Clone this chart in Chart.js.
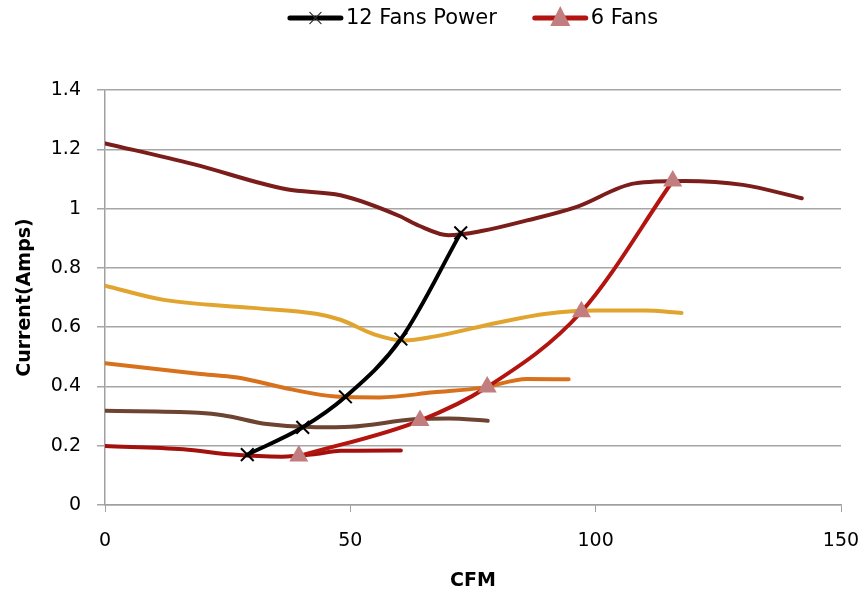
<!DOCTYPE html>
<html>
<head>
<meta charset="utf-8">
<script src="https://cdn.jsdelivr.net/npm/chart.js@4.4.1/dist/chart.umd.min.js"></script>
<style>
  html, body { margin: 0; padding: 0; background: #ffffff; }
  #wrap { width: 861px; height: 594px; position: relative; }
</style>
</head>
<body>
<div id="wrap"><canvas id="chart" width="861" height="594"></canvas></div>
<script>
// Axis ticks
const xTicks = [0, 50, 100, 150];
const yTicks = [0, 0.2, 0.4, 0.6, 0.8, 1.0, 1.2, 1.4];

// Labelled series
const power12Cfm  = [29, 40.3, 49, 60.3, 72.5];
const power12Amps = [0.17, 0.262, 0.365, 0.56, 0.918];
const fans6Cfm    = [39.5, 64.2, 77.9, 97.1, 115.7];
const fans6Amps   = [0.165, 0.285, 0.398, 0.652, 1.093];

// Fan curves (no legend entry)
const curve1Cfm  = [0, 18, 37, 48, 60, 64, 70, 77, 86, 96, 108, 118, 130, 142];
const curve1Amps = [1.22, 1.15, 1.065, 1.045, 0.975, 0.942, 0.91, 0.925, 0.96, 1.005, 1.085, 1.093, 1.08, 1.035];
const curve2Cfm  = [0, 12, 30, 43, 48, 55, 61, 67, 80, 90, 100, 110, 117.5];
const curve2Amps = [0.74, 0.692, 0.665, 0.645, 0.625, 0.575, 0.555, 0.568, 0.615, 0.645, 0.656, 0.656, 0.648];
const curve3Cfm  = [0, 19, 27, 38, 47, 56, 67, 77, 86, 94.5];
const curve3Amps = [0.478, 0.443, 0.43, 0.39, 0.366, 0.363, 0.38, 0.396, 0.425, 0.424];
const curve4Cfm  = [0, 19, 24, 33, 43, 50, 63, 70, 78];
const curve4Amps = [0.318, 0.311, 0.303, 0.273, 0.262, 0.264, 0.289, 0.292, 0.284];
const curve5Cfm  = [0, 16, 26, 36, 43, 48, 60.3];
const curve5Amps = [0.199, 0.188, 0.17, 0.163, 0.172, 0.183, 0.184];

const pts = (xs, ys) => xs.map((x, i) => ({ x: x, y: ys[i] }));

const FONT = "'DejaVu Sans', 'Liberation Sans', sans-serif";

function curve(xs, ys, color, order) {
  return {
    label: '',
    data: pts(xs, ys),
    borderColor: color,
    backgroundColor: color,
    borderWidth: 4,
    pointRadius: 0,
    pointHoverRadius: 0,
    cubicInterpolationMode: 'monotone',
    borderCapStyle: 'round',
    borderJoinStyle: 'round',
    fill: false,
    order: order,
    showInLegend: false
  };
}

const datasets = [
  curve(curve1Cfm, curve1Amps, '#7B1E1B', 5),
  curve(curve2Cfm, curve2Amps, '#E1A42F', 4),
  curve(curve3Cfm, curve3Amps, '#D8711C', 3),
  curve(curve4Cfm, curve4Amps, '#6C4431', 6),
  curve(curve5Cfm, curve5Amps, '#A3110F', 7),
  {
    label: '12 Fans Power',
    data: pts(power12Cfm, power12Amps),
    borderColor: '#000000',
    backgroundColor: '#000000',
    borderWidth: 4,
    pointStyle: 'crossRot',
    pointRadius: 9,
    pointBorderWidth: 2,
    pointBorderColor: '#000000',
    cubicInterpolationMode: 'monotone',
    borderCapStyle: 'round',
    fill: false,
    order: 1,
    showInLegend: true
  },
  {
    label: '6 Fans',
    data: pts(fans6Cfm, fans6Amps),
    borderColor: '#B3140F',
    backgroundColor: '#C27E7E',
    borderWidth: 4,
    pointStyle: 'triangle',
    pointRadius: 11,
    pointBorderWidth: 0,
    pointBorderColor: '#C27E7E',
    pointBackgroundColor: '#C27E7E',
    cubicInterpolationMode: 'monotone',
    borderCapStyle: 'round',
    fill: false,
    order: 0,
    showInLegend: true
  }
];

// Legend: a line sample with its marker, followed by the series name
const lineLegend = {
  id: 'lineLegend',
  afterDraw(chart) {
    const ctx = chart.ctx;
    const items = chart.data.datasets.filter(d => d.showInLegend);
    const sample = 55, gap = 3, spacing = 36, y = 18;
    ctx.save();
    ctx.font = '21px ' + FONT;
    const widths = items.map(d => sample + gap + ctx.measureText(d.label).width);
    const total = widths.reduce((a, b) => a + b, 0) + spacing * (items.length - 1);
    const area = chart.chartArea;
    let x = (area.left + area.right) / 2 - total / 2;
    items.forEach((d, k) => {
      ctx.strokeStyle = d.borderColor;
      ctx.lineWidth = 5;
      ctx.lineCap = 'round';
      ctx.beginPath();
      ctx.moveTo(x + 2, y);
      ctx.lineTo(x + sample - 2, y);
      ctx.stroke();
      const cx = x + sample / 2;
      if (d.pointStyle === 'crossRot') {
        const r = 8;
        ctx.strokeStyle = '#333333';
        ctx.lineWidth = 1.3;
        ctx.beginPath();
        ctx.moveTo(cx - r * 0.7, y - r * 0.7); ctx.lineTo(cx + r * 0.7, y + r * 0.7);
        ctx.moveTo(cx + r * 0.7, y - r * 0.7); ctx.lineTo(cx - r * 0.7, y + r * 0.7);
        ctx.stroke();
      } else if (d.pointStyle === 'triangle') {
        ctx.fillStyle = d.pointBackgroundColor;
        ctx.beginPath();
        ctx.moveTo(cx, y - 12);
        ctx.lineTo(cx + 10, y + 8);
        ctx.lineTo(cx - 10, y + 8);
        ctx.closePath();
        ctx.fill();
      }
      ctx.fillStyle = '#000000';
      ctx.textBaseline = 'middle';
      ctx.textAlign = 'left';
      ctx.fillText(d.label, x + sample + gap, y + 1);
      x += widths[k] + spacing;
    });
    ctx.restore();
  }
};

new Chart(document.getElementById('chart'), {
  type: 'line',
  data: { datasets: datasets },
  plugins: [lineLegend],
  options: {
    responsive: false,
    animation: false,
    devicePixelRatio: 1,
    layout: { padding: { top: 90, right: 20, left: 0, bottom: 0 } },
    plugins: {
      legend: { display: false },
      tooltip: { enabled: false },
      title: { display: false }
    },
    scales: {
      x: {
        type: 'linear',
        min: xTicks[0],
        max: xTicks[xTicks.length - 1],
        afterBuildTicks(scale) { scale.ticks = xTicks.map(v => ({ value: v })); },
        afterFit(scale) {
          scale.height = 89;
          scale.paddingLeft = 0;
          scale.paddingRight = 0;
        },
        grid: {
          drawOnChartArea: false,
          drawTicks: true,
          tickLength: 7,
          color: '#A0A0A0',
          lineWidth: 1
        },
        border: { display: true, color: '#A0A0A0', width: 1.5 },
        ticks: {
          color: '#000000',
          padding: 18,
          maxRotation: 0,
          font: { family: FONT, size: 19 }
        },
        title: {
          display: true,
          text: 'CFM',
          color: '#000000',
          padding: { top: 0, bottom: 2 },
          font: { family: FONT, size: 19, weight: 'bold' }
        }
      },
      y: {
        type: 'linear',
        min: yTicks[0],
        max: yTicks[yTicks.length - 1],
        afterBuildTicks(scale) { scale.ticks = yTicks.map(v => ({ value: v })); },
        afterFit(scale) {
          scale.width = 105;
          scale.paddingTop = 0;
          scale.paddingBottom = 0;
        },
        grid: {
          drawOnChartArea: true,
          drawTicks: true,
          tickLength: 8,
          color: '#A6A6A6',
          lineWidth: 1.5
        },
        border: { display: true, color: '#A0A0A0', width: 1.5 },
        ticks: {
          color: '#000000',
          padding: 16,
          font: { family: FONT, size: 19 },
          callback: v => String(Math.round(v * 10) / 10)
        },
        title: {
          display: true,
          text: 'Current(Amps)',
          color: '#000000',
          padding: { top: 14, bottom: 0 },
          font: { family: FONT, size: 19, weight: 'bold' }
        }
      }
    }
  }
});
</script>
</body>
</html>
